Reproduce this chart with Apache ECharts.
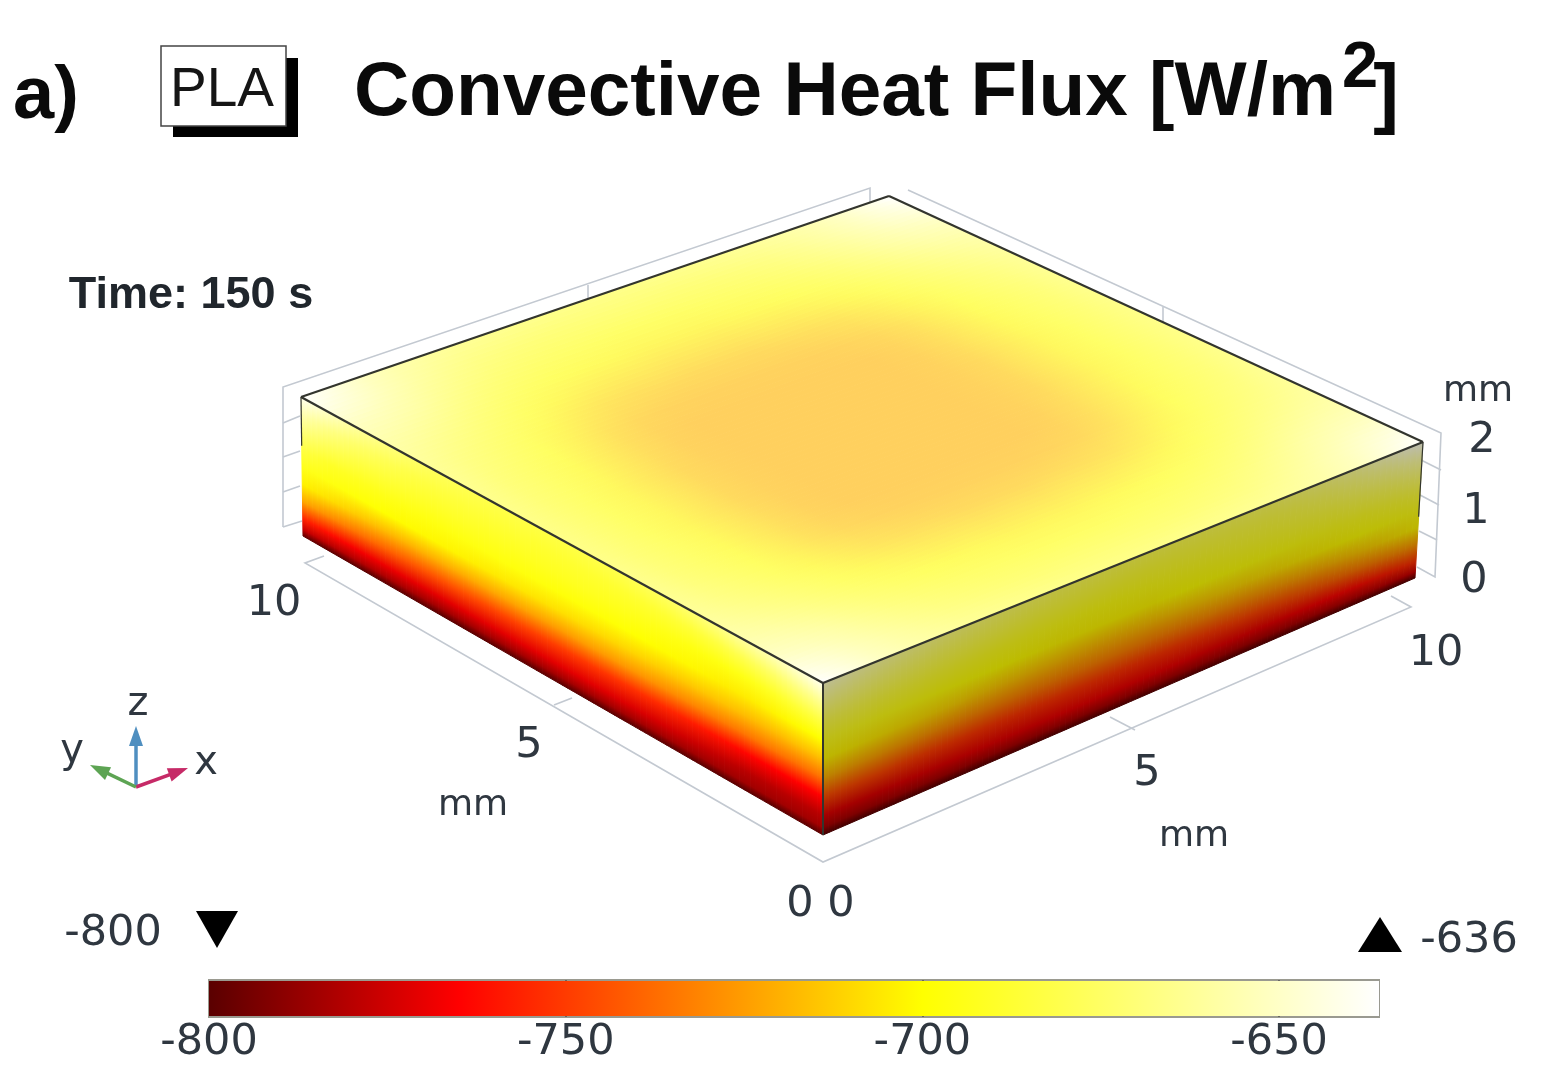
<!DOCTYPE html>
<html lang="en">
<head>
  <meta charset="UTF-8">
  <title>Convective Heat Flux</title>
  <script src="https://cdn.jsdelivr.net/npm/echarts@6/dist/echarts.min.js"></script>
  <style>html, body { margin: 0; background: #fff; }</style>
</head>
<body>
  <div id="chart" style="width: 1558px; height: 1089px;"></div>

  <script>
    // colour scale of the flux, W/m2
    const scaleValues = [-800, -765, -700, -636]
    const scaleColors = [[90, 0, 0], [255, 0, 0], [255, 255, 0], [255, 255, 255]]
    const barTicks = [-800, -750, -700, -650]

    // top face, one row per 0.5 mm of y, one value per 0.5 mm of x
    const topFlux = [
      [-636,-648,-660,-668,-673,-677,-679,-681,-682,-683,-683,-683,-682,-681,-679,-677,-673,-668,-660,-648,-636],
      [-648,-655,-664,-672,-679,-684,-687,-689,-690,-690,-690,-690,-690,-689,-687,-684,-679,-672,-664,-655,-648],
      [-660,-664,-670,-678,-685,-690,-693,-695,-696,-697,-697,-697,-696,-695,-693,-690,-685,-678,-670,-664,-660],
      [-668,-672,-678,-685,-691,-696,-699,-701,-702,-703,-703,-703,-702,-701,-699,-696,-691,-685,-678,-672,-668],
      [-673,-679,-685,-691,-697,-702,-705,-707,-708,-709,-709,-709,-708,-707,-705,-702,-697,-691,-685,-679,-673],
      [-677,-684,-690,-696,-702,-707,-711,-713,-714,-715,-715,-715,-714,-713,-711,-707,-702,-696,-690,-684,-677],
      [-679,-687,-693,-699,-705,-711,-715,-717,-718,-718,-718,-718,-718,-717,-715,-711,-705,-699,-693,-687,-679],
      [-681,-689,-695,-701,-707,-713,-717,-719,-719,-719,-719,-719,-719,-719,-717,-713,-707,-701,-695,-689,-681],
      [-682,-690,-696,-702,-708,-714,-718,-719,-719,-719,-719,-719,-719,-719,-718,-714,-708,-702,-696,-690,-682],
      [-683,-690,-697,-703,-709,-715,-718,-719,-719,-719,-719,-719,-719,-719,-718,-715,-709,-703,-697,-690,-683],
      [-683,-690,-697,-703,-709,-715,-718,-719,-719,-719,-719,-719,-719,-719,-718,-715,-709,-703,-697,-690,-683],
      [-683,-690,-697,-703,-709,-715,-718,-719,-719,-719,-719,-719,-719,-719,-718,-715,-709,-703,-697,-690,-683],
      [-682,-690,-696,-702,-708,-714,-718,-719,-719,-719,-719,-719,-719,-719,-718,-714,-708,-702,-696,-690,-682],
      [-681,-689,-695,-701,-707,-713,-717,-719,-719,-719,-719,-719,-719,-719,-717,-713,-707,-701,-695,-689,-681],
      [-679,-687,-693,-699,-705,-711,-715,-717,-718,-718,-718,-718,-718,-717,-715,-711,-705,-699,-693,-687,-679],
      [-677,-684,-690,-696,-702,-707,-711,-713,-714,-715,-715,-715,-714,-713,-711,-707,-702,-696,-690,-684,-677],
      [-673,-679,-685,-691,-697,-702,-705,-707,-708,-709,-709,-709,-708,-707,-705,-702,-697,-691,-685,-679,-673],
      [-668,-672,-678,-685,-691,-696,-699,-701,-702,-703,-703,-703,-702,-701,-699,-696,-691,-685,-678,-672,-668],
      [-660,-664,-670,-678,-685,-690,-693,-695,-696,-697,-697,-697,-696,-695,-693,-690,-685,-678,-670,-664,-660],
      [-648,-655,-664,-672,-679,-684,-687,-689,-690,-690,-690,-690,-690,-689,-687,-684,-679,-672,-664,-655,-648],
      [-636,-648,-660,-668,-673,-677,-679,-681,-682,-683,-683,-683,-682,-681,-679,-677,-673,-668,-660,-648,-636]
    ]

    // heights (mm) of the values in the two side tables
    const sideHeights = [0, 0.1, 0.25, 0.5, 0.75, 1, 1.25, 1.5, 1.75, 2]

    // left face (x = 0), one row per 0.5 mm of y
    const leftFlux = [
      [-800,-785,-780,-765,-736,-716,-700,-682,-662,-640],
      [-800,-785,-780,-765,-736,-716,-701,-686,-668,-648],
      [-800,-785,-780,-765,-735,-717,-703,-691,-675,-655],
      [-800,-785,-780,-764,-735,-717,-705,-695,-680,-660],
      [-800,-785,-778,-761,-733,-715,-704,-696,-684,-667],
      [-800,-785,-776,-758,-731,-714,-702,-696,-686,-672],
      [-800,-784,-774,-755,-729,-713,-701,-695,-687,-676],
      [-800,-784,-773,-753,-727,-711,-700,-694,-688,-679],
      [-800,-784,-772,-752,-726,-710,-699,-693,-688,-681],
      [-800,-784,-771,-751,-725,-709,-698,-692,-688,-682],
      [-800,-784,-771,-750,-725,-708,-698,-692,-688,-683],
      [-800,-784,-771,-749,-724,-707,-697,-692,-688,-683],
      [-800,-784,-771,-748,-723,-706,-697,-692,-687,-682],
      [-800,-784,-771,-747,-722,-705,-696,-691,-686,-681],
      [-800,-784,-771,-745,-721,-703,-696,-690,-685,-679],
      [-800,-784,-771,-744,-720,-702,-696,-690,-684,-677],
      [-800,-783,-770,-742,-719,-701,-695,-688,-682,-673],
      [-800,-782,-769,-739,-717,-700,-694,-686,-678,-667],
      [-800,-781,-767,-735,-713,-698,-692,-683,-673,-660],
      [-800,-779,-762,-729,-708,-696,-690,-678,-666,-650],
      [-798,-776,-756,-722,-703,-693,-683,-670,-656,-640]
    ]

    // right face (y = 0), one row per 0.5 mm of x
    const rightFlux = [
      [-800,-783,-772,-745,-720,-702,-692,-680,-665,-650],
      [-800,-783,-772,-746,-722,-704,-693,-682,-669,-656],
      [-800,-783,-772,-747,-724,-706,-695,-685,-673,-661],
      [-800,-783,-771,-749,-726,-708,-696,-687,-676,-665],
      [-800,-783,-771,-750,-728,-710,-698,-689,-679,-668],
      [-800,-783,-770,-751,-730,-712,-699,-691,-681,-671],
      [-800,-783,-770,-752,-731,-714,-700,-693,-683,-674],
      [-800,-783,-770,-752,-732,-715,-701,-694,-685,-676],
      [-800,-783,-769,-752,-732,-716,-702,-695,-686,-678],
      [-800,-783,-769,-752,-732,-717,-702,-696,-687,-679],
      [-800,-783,-769,-752,-732,-717,-702,-696,-688,-680],
      [-800,-783,-769,-752,-732,-716,-702,-695,-688,-680],
      [-800,-783,-769,-751,-731,-714,-700,-694,-687,-680],
      [-800,-783,-770,-750,-729,-712,-699,-693,-686,-679],
      [-800,-783,-770,-748,-728,-710,-698,-691,-685,-678],
      [-800,-783,-770,-747,-726,-708,-697,-690,-684,-676],
      [-800,-782,-768,-744,-723,-705,-696,-688,-681,-672],
      [-800,-781,-766,-740,-719,-702,-694,-686,-677,-667],
      [-800,-780,-763,-735,-714,-699,-692,-682,-671,-660],
      [-800,-778,-758,-730,-708,-697,-689,-678,-665,-650],
      [-800,-775,-752,-725,-702,-694,-685,-672,-658,-640]
    ]

    // box outline in mm: x, y, z of both ends, then line width
    const boxEdges = [
      [0, 0, 2, 10, 0, 2, 2.2], [0, 0, 2, 0, 10, 2, 2.2], [10, 0, 2, 10, 10, 2, 2.2], [0, 10, 2, 10, 10, 2, 2.2],
      [0, 0, 0, 0, 0, 2, 2], [10, 0, 0.9, 10, 0, 2, 1.2], [0, 10, 1.3, 0, 10, 2, 1.2]
    ]

    // where the corners of the box land on the page
    const view = {
      top: { o: [823, 683], x: [1423, 442], y: [301, 397], xy: [889, 196] },
      bottom: { o: [823, 835], x: [1415, 578], y: [303, 536], xy: [884, 322] }
    }

    function corner(plane, x, y) {
      const s = x / 10, t = y / 10
      return [0, 1].map(k => (1 - s) * (1 - t) * plane.o[k] + s * (1 - t) * plane.x[k] + (1 - s) * t * plane.y[k] + s * t * plane.xy[k])
    }
    function project(x, y, z) {
      const a = corner(view.bottom, x, y), b = corner(view.top, x, y), h = z / 2
      return [a[0] + (b[0] - a[0]) * h, a[1] + (b[1] - a[1]) * h]
    }

    function fluxColor(v) {
      let i = 0
      while (i < scaleValues.length - 2 && v > scaleValues[i + 1]) i++
      const t = Math.min(1, Math.max(0, (v - scaleValues[i]) / (scaleValues[i + 1] - scaleValues[i])))
      return scaleColors[i].map((c, k) => c + (scaleColors[i + 1][k] - c) * t)
    }
    const rgb = c => 'rgb(' + c.map(Math.round).join(',') + ')'

    // stops of a face as fractions across it
    const topStops = topFlux[0].map((v, i) => i / (topFlux[0].length - 1))
    const sideStops = sideHeights.map(h => h / 2)

    // each face: its table, how (along, across) map to mm, its lighting
    const faces = [
      { rows: topFlux, stops: topStops, width: 10, at: (u, w) => [w, u, 2], light: c => c.map(k => k * 0.63 + 255 * 0.37) },
      { rows: leftFlux, stops: sideStops, width: 2, at: (u, w) => [0, u, w], light: c => c },
      { rows: rightFlux, stops: sideStops, width: 2, at: (u, w) => [u, 0, w], light: c => c.map(k => k * 0.74) }
    ]

    // the shading between two table rows is split so the bands don't show
    const shadeSteps = 5
    const stripData = []
    faces.forEach((f, i) => {
      for (let j = 0; j < f.rows.length - 1; j++) {
        for (let s = 0; s < shadeSteps; s++) stripData.push([i, j, s])
      }
    })

    function renderStrip(params, api) {
      const face = faces[api.value(0)], j = api.value(1), s = api.value(2)
      const step = 10 / (face.rows.length - 1)
      const u0 = (j + s / shadeSteps) * step, u1 = (j + (s + 1) / shadeSteps) * step, u = (u0 + u1) / 2
      const t = (s + 0.5) / shadeSteps
      const px = (a, b) => api.coord(project(...face.at(a, b)))
      // gradient runs square to the strip's long sides so the shading stays on the face
      const p0 = px(u, 0), p1 = px(u, face.width)
      const a = px(u0, face.width / 2), b = px(u1, face.width / 2)
      let nx = -(b[1] - a[1]), ny = b[0] - a[0]
      const len = Math.hypot(nx, ny)
      nx /= len; ny /= len
      const d = (p1[0] - p0[0]) * nx + (p1[1] - p0[1]) * ny
      const stops = face.stops.map((off, k) => {
        const c0 = face.light(fluxColor(face.rows[j][k])), c1 = face.light(fluxColor(face.rows[j + 1][k]))
        return { offset: off, color: rgb(c0.map((c, m) => c + (c1[m] - c) * t)) }
      })
      const fill = new echarts.graphic.LinearGradient(p0[0], p0[1], p0[0] + nx * d, p0[1] + ny * d, stops, true)
      return {
        type: 'polygon',
        shape: { points: [px(u0, 0), px(u1, 0), px(u1, face.width), px(u0, face.width)] },
        style: { fill: fill, stroke: fill, lineWidth: 1 }
      }
    }

    function renderEdge(params, api) {
      const a = api.coord(project(api.value(0), api.value(1), api.value(2)))
      const b = api.coord(project(api.value(3), api.value(4), api.value(5)))
      return {
        type: 'line',
        shape: { x1: a[0], y1: a[1], x2: b[0], y2: b[1] },
        style: { stroke: '#33352e', lineWidth: api.value(6) }
      }
    }

    function renderBar(params, api) {
      const a = api.coord([scaleValues[0], 0]), b = api.coord([scaleValues[scaleValues.length - 1], 1])
      const span = scaleValues[scaleValues.length - 1] - scaleValues[0]
      return {
        type: 'rect',
        shape: { x: a[0], y: b[1] + 1, width: b[0] - a[0], height: a[1] - b[1] - 2 },
        style: {
          fill: new echarts.graphic.LinearGradient(0, 0, 1, 0, scaleValues.map((v, i) => ({
            offset: (v - scaleValues[0]) / span, color: rgb(scaleColors[i])
          })))
        }
      }
    }

    const frameColor = '#c3c9d1'
    const framePaths = [
      [[283, 527], [283, 387], [870, 188], [870, 203]],
      [[588, 285], [588, 298]],
      [[283, 527], [302, 521]], [[283, 423], [300, 416]], [[283, 457], [300, 451]], [[283, 492], [300, 486]],
      [[908, 190], [1441, 433], [1435, 577], [1417, 567]],
      [[1163, 307], [1163, 322]],
      [[1441, 470], [1421, 460]], [[1439, 505], [1420, 495]], [[1437, 540], [1419, 531]],
      [[324, 556], [305, 563], [823, 862], [1411, 607], [1391, 596]],
      [[554, 705], [572, 698]], [[1135, 730], [1110, 717]]
    ]

    const sans = 'DejaVu Sans'
    const arial = 'Liberation Sans'
    const textColor = '#2f3740'
    function label(text, x, y, size, extra) {
      return {
        type: 'text', x: x, y: y,
        style: Object.assign({
          text: text, fill: textColor, fontFamily: sans, fontSize: size,
          textAlign: 'center', textVerticalAlign: 'middle'
        }, extra)
      }
    }
    function arrow(x0, y0, x1, y1, color) {
      const dx = x1 - x0, dy = y1 - y0, l = Math.hypot(dx, dy), ux = dx / l, uy = dy / l
      return [
        { type: 'line', shape: { x1: x0, y1: y0, x2: x1 - ux * 12, y2: y1 - uy * 12 }, style: { stroke: color, lineWidth: 3.5 } },
        { type: 'polygon', shape: { points: [[x1, y1], [x1 - ux * 20 - uy * 7, y1 - uy * 20 + ux * 7], [x1 - ux * 20 + uy * 7, y1 - uy * 20 - ux * 7]] }, style: { fill: color } }
      ]
    }

    const graphics = [
      { type: 'rect', shape: { x: 173, y: 58, width: 125, height: 79 }, style: { fill: '#000' } },
      { type: 'rect', shape: { x: 161, y: 46, width: 125, height: 80 }, style: { fill: '#fff', stroke: '#444', lineWidth: 1.5 } },
      label('PLA', 222, 91, 55, { fontFamily: arial, fill: '#151515' }),
      label('a)', 46, 98, 74, { fontFamily: arial, fontWeight: 'bold', fill: '#0a0a0a' }),
      label('2', 1360, 69, 65, { fontFamily: arial, fontWeight: 'bold', fill: '#0a0a0a' }),
      label(']', 1386, 98, 77, { fontFamily: arial, fontWeight: 'bold', fill: '#0a0a0a' }),
      label('Time: 150 s', 191, 296, 45, { fontFamily: arial, fontWeight: 'bold', fill: '#20262c' }),
      label('10', 274, 604, 43), label('5', 529, 746, 43), label('mm', 473, 806, 36),
      label('0', 800, 905, 43), label('0', 841, 905, 43),
      label('5', 1147, 774, 43), label('10', 1436, 654, 43), label('mm', 1194, 837, 36),
      label('2', 1482, 441, 43), label('1', 1476, 512, 43), label('0', 1474, 581, 43), label('mm', 1478, 392, 36),
      label('z', 138, 705, 40), label('x', 206, 764, 40), label('y', 72, 752, 40),
      label('-800', 113, 934, 43), label('-636', 1469, 941, 43),
      { type: 'polygon', shape: { points: [[196, 911], [238, 911], [217, 948]] }, style: { fill: '#000' } },
      { type: 'polygon', shape: { points: [[1358, 952], [1402, 952], [1380, 917]] }, style: { fill: '#000' } }
    ].concat(
      arrow(136, 787, 136, 726, '#4f8fc0'),
      arrow(136, 787, 188, 768, '#c62a67'),
      arrow(136, 787, 90, 765, '#5da453'),
      framePaths.map(p => ({
        type: 'polyline', shape: { points: p }, style: { stroke: frameColor, fill: null, lineWidth: 1.6 }
      }))
    )

    const chart = echarts.init(document.getElementById('chart'), null, { renderer: 'canvas' })
    chart.setOption({
      backgroundColor: '#fff',
      animation: false,
      title: {
        text: 'Convective Heat Flux [W/m',
        left: 349, top: 50,
        textStyle: { fontFamily: arial, fontWeight: 'bold', fontSize: 76.5, color: '#0a0a0a' }
      },
      graphic: { elements: graphics },
      grid: [
        { left: 0, top: 0, width: 1558, height: 1089, show: false },
        { left: 209, top: 980, width: 1170, height: 37, show: true, borderColor: '#9a9a90', borderWidth: 2, backgroundColor: 'transparent' }
      ],
      xAxis: [
        { gridIndex: 0, type: 'value', min: 0, max: 1558, show: false },
        {
          gridIndex: 1, type: 'value', min: -800, max: -636, interval: 50, position: 'bottom',
          axisLine: { show: false }, splitLine: { show: false },
          axisTick: { inside: true, length: 7, customValues: barTicks.slice(1), lineStyle: { color: '#555', width: 1.5 } },
          axisLabel: { customValues: barTicks, margin: 4, fontFamily: sans, fontSize: 43, color: textColor, formatter: v => String(v) }
        },
        {
          gridIndex: 1, type: 'value', min: -800, max: -636, interval: 50, position: 'top',
          axisLine: { show: false }, splitLine: { show: false }, axisLabel: { show: false },
          axisTick: { inside: true, length: 7, customValues: barTicks.slice(1), lineStyle: { color: '#555', width: 1.5 } }
        }
      ],
      yAxis: [
        { gridIndex: 0, type: 'value', min: 0, max: 1089, inverse: true, show: false },
        { gridIndex: 1, type: 'value', min: 0, max: 1, show: false }
      ],
      series: [
        { type: 'custom', xAxisIndex: 0, yAxisIndex: 0, data: stripData, renderItem: renderStrip, silent: true, clip: false },
        { type: 'custom', xAxisIndex: 0, yAxisIndex: 0, data: boxEdges, renderItem: renderEdge, silent: true, clip: false, z: 3 },
        { type: 'custom', xAxisIndex: 1, yAxisIndex: 1, data: [[scaleValues[0]]], renderItem: renderBar, silent: true, clip: false, z: 1 }
      ]
    })
  </script>
</body>
</html>
